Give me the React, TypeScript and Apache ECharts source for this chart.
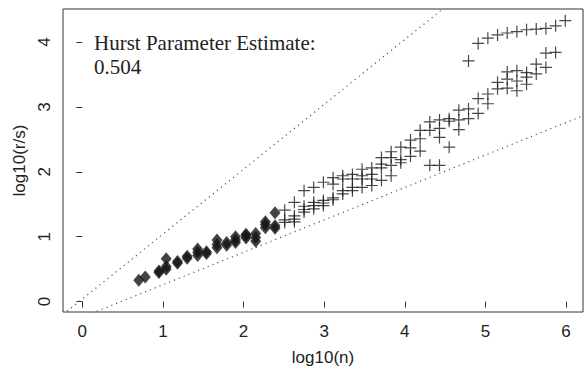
import { useEffect, useRef } from "react";
import * as echarts from "echarts";

// log10(n) positions of the filled-diamond points and their log10(R/S) values
const diamondX = [0.70, 0.78, 0.95, 1.04, 1.18, 1.30, 1.43, 1.54, 1.67, 1.79, 1.90, 2.03, 2.15, 2.27, 2.39];
const diamondY = [
  [0.33],
  [0.38],
  [0.45, 0.47],
  [0.50, 0.54, 0.66],
  [0.59, 0.62],
  [0.67, 0.70],
  [0.71, 0.76, 0.81],
  [0.74, 0.77],
  [0.83, 0.88, 0.95],
  [0.87, 0.91],
  [0.91, 0.95, 1.00],
  [0.98, 1.02, 1.04],
  [0.93, 0.99, 1.05],
  [1.14, 1.19, 1.23],
  [1.13, 1.17, 1.37],
];

// log10(n) positions of the plus points and their log10(R/S) values
const plusX = [
  2.51, 2.63, 2.75, 2.87, 2.99, 3.11, 3.23, 3.35, 3.47, 3.59,
  3.71, 3.83, 3.95, 4.07, 4.19, 4.31, 4.43, 4.55, 4.67, 4.79,
  4.91, 5.03, 5.15, 5.27, 5.39, 5.51, 5.63, 5.75, 5.87, 5.99,
];
const plusY = [
  [1.41, 1.26, 1.22],
  [1.53, 1.32, 1.23, 1.27],
  [1.71, 1.47, 1.38, 1.42],
  [1.76, 1.53, 1.43, 1.48],
  [1.84, 1.56, 1.48, 1.52],
  [1.91, 1.81, 1.57, 1.60],
  [1.94, 1.89, 1.71, 1.66],
  [1.96, 1.89, 1.76, 1.71],
  [2.04, 1.94, 1.89, 1.76],
  [2.06, 1.96, 1.89, 1.79],
  [2.22, 2.12, 2.06, 1.87],
  [2.31, 2.22, 2.10, 1.94],
  [2.38, 2.19, 2.14],
  [2.49, 2.37, 2.24],
  [2.64, 2.51, 2.32],
  [2.77, 2.64, 2.10],
  [2.80, 2.67, 2.53, 2.10],
  [2.82, 2.78, 2.38],
  [2.95, 2.80, 2.65],
  [3.71, 2.97, 2.82],
  [3.98, 3.13, 2.90],
  [4.06, 3.20, 3.05],
  [4.11, 3.38, 3.28],
  [4.14, 3.54, 3.43, 3.29],
  [4.16, 3.56, 3.40, 3.25],
  [4.19, 3.53, 3.46, 3.35],
  [4.20, 3.66, 3.51],
  [4.21, 3.83, 3.61],
  [4.25, 3.84],
  [4.33],
];

const xTicks = [0, 1, 2, 3, 4, 5, 6];
const yTicks = [0, 1, 2, 3, 4];

// reference lines: slope and intercept
const refSlopes = [1, 0.5];
const refIntercepts = [0.04, -0.24];

const xRange = [-0.24, 6.21];
const yRange = [-0.16, 4.51];

const hurstLabel = "Hurst Parameter Estimate:";
const hurstValue = "0.504";

function flatten(xs: number[], ys: number[][]) {
  const out: number[][] = [];
  xs.forEach((x, i) => ys[i].forEach((y) => out.push([x, y])));
  return out;
}

export default function App() {
  const ref = useRef<HTMLDivElement>(null);
  useEffect(() => {
    if (!ref.current) return;
    const chart = echarts.init(ref.current, null, { renderer: "svg" });
    const sans = "'Liberation Sans', Arial, sans-serif";
    const refSeries = refSlopes.map((s, i) => ({
      type: "line",
      silent: true,
      symbol: "none",
      clip: true,
      data: [
        [xRange[0], s * xRange[0] + refIntercepts[i]],
        [xRange[1], s * xRange[1] + refIntercepts[i]],
      ],
      lineStyle: { type: [1.2, 4], width: 1.2, color: "#555" },
      z: 1,
    }));
    chart.setOption({
      animation: false,
      grid: {
        left: 63,
        top: 9,
        width: 520,
        height: 308,
        show: true,
        borderColor: "#333",
        borderWidth: 1,
        backgroundColor: "transparent",
      },
      xAxis: {
        type: "value",
        min: xRange[0],
        max: xRange[1],
        axisLine: { show: false },
        axisTick: { show: true, customValues: xTicks, length: 6, lineStyle: { color: "#333" } },
        axisLabel: { customValues: xTicks, fontSize: 17, color: "#222", fontFamily: sans, margin: 11 },
        splitLine: { show: false },
        name: "log10(n)",
        nameLocation: "middle",
        nameGap: 37,
        nameTextStyle: { fontSize: 17, color: "#222", fontFamily: sans },
      },
      yAxis: {
        type: "value",
        min: yRange[0],
        max: yRange[1],
        axisLine: { show: false },
        axisTick: { show: true, customValues: yTicks, length: 6, lineStyle: { color: "#333" } },
        axisLabel: { customValues: yTicks, rotate: 90, fontSize: 17, color: "#222", fontFamily: sans, margin: 10 },
        splitLine: { show: false },
        name: "log10(r/s)",
        nameLocation: "middle",
        nameGap: 31,
        nameTextStyle: { fontSize: 17, color: "#222", fontFamily: sans },
      },
      graphic: [
        {
          type: "text",
          left: 94,
          top: 31,
          style: {
            text: hurstLabel + "\n" + hurstValue,
            font: "21px 'Liberation Serif', 'Times New Roman', serif",
            fill: "#222",
            lineHeight: 24,
          },
        },
      ],
      series: [
        ...refSeries,
        {
          type: "scatter",
          data: flatten(diamondX, diamondY),
          symbol: "diamond",
          symbolSize: [11, 13],
          itemStyle: { color: "#151515" },
          z: 3,
        },
        {
          type: "scatter",
          data: flatten(plusX, plusY),
          symbol: "path://M0,6L12,6M6,0L6,12",
          symbolSize: 12,
          itemStyle: { color: "transparent", borderColor: "#1a1a1a", borderWidth: 1.2 },
          z: 3,
        },
      ],
    });
    return () => chart.dispose();
  }, []);
  return (
    <div
      ref={ref}
      style={{ position: "fixed", left: 0, top: 0, width: 584, height: 371, background: "#fff" }}
    />
  );
}
